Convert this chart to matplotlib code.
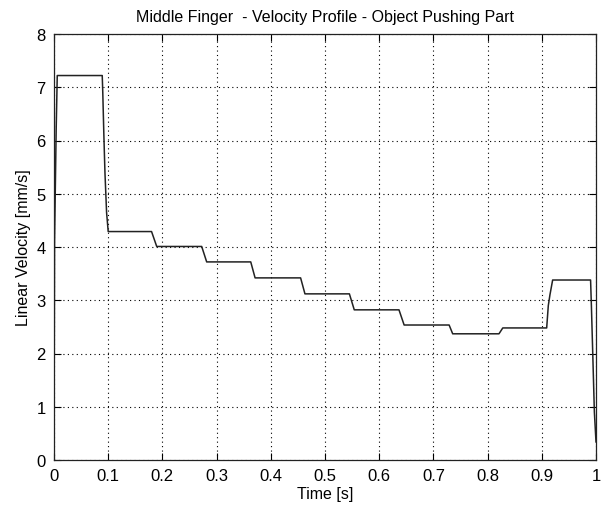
import matplotlib
matplotlib.use("Agg")
import matplotlib.pyplot as plt

# Velocity profile samples (time [s], velocity [mm/s])
time_s = [0.0, 0.001, 0.004, 0.006, 0.089, 0.090, 0.092, 0.094, 0.097, 0.100,
          0.180, 0.1895, 0.2725, 0.2817, 0.363, 0.371, 0.455, 0.463, 0.545,
          0.554, 0.6365, 0.646, 0.729, 0.7356, 0.821, 0.828, 0.909, 0.912,
          0.915, 0.920, 0.990, 0.9915, 0.994, 0.997, 1.0]
velocity = [0.0, 4.1, 6.2, 7.22, 7.22, 6.9, 6.1, 5.4, 4.65, 4.29,
            4.29, 4.01, 4.01, 3.72, 3.72, 3.42, 3.42, 3.12, 3.12,
            2.82, 2.82, 2.535, 2.535, 2.37, 2.37, 2.48, 2.48, 2.9,
            3.1, 3.38, 3.38, 2.9, 2.0, 0.9, 0.34]

x_ticks = [0, 0.1, 0.2, 0.3, 0.4, 0.5, 0.6, 0.7, 0.8, 0.9, 1]
x_tick_labels = ["0", "0.1", "0.2", "0.3", "0.4", "0.5", "0.6", "0.7", "0.8", "0.9", "1"]
y_ticks = [0, 1, 2, 3, 4, 5, 6, 7, 8]

title = "Middle Finger  - Velocity Profile - Object Pushing Part"
x_label = "Time [s]"
y_label = "Linear Velocity [mm/s]"

plt.rcParams['font.family'] = ['Liberation Sans Narrow', 'Liberation Sans', 'DejaVu Sans']

fig = plt.figure(figsize=(6.03, 5.06), dpi=100)
ax = fig.add_axes([54/603, 45/506, 542/603, 426/506])

ax.plot(time_s, velocity, color='#222222', linewidth=1.1)

ax.set_xlim(0, 1)
ax.set_ylim(0, 8)
ax.set_xticks(x_ticks)
ax.set_xticklabels(x_tick_labels)
ax.set_yticks(y_ticks)
ax.grid(True, linestyle=(0, (1, 3)), color='black', linewidth=0.8)
ax.tick_params(direction='in', length=5, width=0.8, top=True, right=True,
               labelsize=12, colors='black')
ax.tick_params(axis='x', pad=6)
ax.tick_params(axis='y', pad=6)
for s in ax.spines.values():
    s.set_linewidth(0.9)
    s.set_color('#222222')

ax.set_title(title, fontsize=11.5, pad=9)
ax.set_xlabel(x_label, fontsize=11.5, labelpad=2)
ax.set_ylabel(y_label, fontsize=11.5, labelpad=4)

fig.savefig("out.png", dpi=100, facecolor='white')
